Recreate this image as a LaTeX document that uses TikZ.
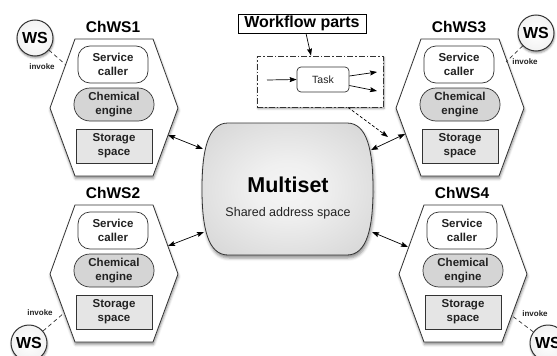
\documentclass[tikz,border=0pt]{standalone}
\usepackage{fontspec}
\setmainfont{Liberation Sans}
\usetikzlibrary{arrows.meta,shadows.blur}
\definecolor{lineC}{HTML}{333333}
\definecolor{txtC}{HTML}{222222}
\definecolor{chemC}{HTML}{D5D5D5}
\definecolor{storC}{HTML}{E5E5E5}
\pgfdeclareradialshading{msshade}{\pgfpoint{0bp}{0bp}}{color(0bp)=(white!96!black); color(10bp)=(white!94!black); color(50bp)=(white!77!black); color(72bp)=(white!62!black)}
\pgfdeclareradialshading{wsshade}{\pgfpoint{0bp}{0bp}}{color(0bp)=(white); color(30bp)=(white!94!black); color(50bp)=(white!72!black)}
\tikzset{
  hexa/.style={draw=lineC, line width=0.8pt, fill=white, blur shadow={shadow xshift=0.5pt, shadow yshift=-2.5pt, shadow blur radius=2.5pt, shadow opacity=45}},
  titlefont/.style={font=\bfseries\fontsize{15.5}{17}\selectfont, text=black},
  inner/.style={draw=lineC, line width=0.7pt, align=center, text=txtC, inner sep=0pt, font=\bfseries\fontsize{11.5}{14}\selectfont},
  svc/.style={inner, fill=white, rounded corners=12pt, minimum width=70pt, minimum height=37pt},
  chem/.style={inner, fill=chemC, rounded corners=16pt, minimum width=80pt, minimum height=33pt},
  stor/.style={inner, fill=storC, minimum width=76pt, minimum height=34pt},
  wsnode/.style={circle, draw=lineC, line width=1pt, shade, shading=wsshade, minimum size=36pt, inner sep=0pt, font=\bfseries\fontsize{16}{18}\selectfont, blur shadow={shadow xshift=0.5pt, shadow yshift=-2pt, shadow blur radius=2pt, shadow opacity=40}},
  invk/.style={font=\bfseries\fontsize{8}{9}\selectfont, text=txtC, inner sep=0pt},
  wsl/.style={draw=lineC, line width=0.7pt, dash pattern=on 4pt off 3pt},
  arr/.style={-{Stealth[length=7pt,width=5pt,inset=1pt]}, line width=0.7pt, draw=black},
  darr/.style={{Stealth[length=7pt,width=5pt,inset=1pt]}-{Stealth[length=7pt,width=5pt,inset=1pt]}, line width=0.7pt, draw=black},
}
\begin{document}
\begin{tikzpicture}[x=1pt,y=-1pt]
\useasboundingbox (0,0) rectangle (557,356);
\clip (0,0) rectangle (557,356);

% Multiset
\path[draw=lineC, line width=0.8pt, shade, shading=msshade, blur shadow={shadow xshift=1pt, shadow yshift=-3pt, shadow blur radius=3pt, shadow opacity=45}]
  (228,123) -- (347,123) .. controls (367,123) and (373,150) .. (373,189)
  .. controls (373,228) and (367,255) .. (347,255) -- (228,255)
  .. controls (208,255) and (202,228) .. (202,189)
  .. controls (202,150) and (208,123) .. (228,123) -- cycle;
\node[font=\bfseries\fontsize{21.5}{24}\selectfont] (ms) at (288,185) {Multiset};
\node[font=\fontsize{12.5}{14}\selectfont, text=txtC] (mss) at (288,213) {Shared address space};

% ChWS components
\foreach \cx/\ty/\n in {114/39/1, 460/39/3, 114/205/2, 463/205/4} {
  \draw[hexa] (\cx-64,\ty+69) -- (\cx-39,\ty) -- (\cx+39,\ty) -- (\cx+64,\ty+69) -- (\cx+39,\ty+137) -- (\cx-39,\ty+137) -- cycle;
  \node[titlefont] (t\n) at (\cx-1,\ty-12.5) {ChWS\n};
  \node[svc] (s\n) at (\cx-1,\ty+25.5) {Service\\caller};
  \node[chem] (c\n) at (\cx,\ty+65.5) {Chemical\\engine};
  \node[stor] (g\n) at (\cx,\ty+107) {Storage\\space};
}

% WS circles
\node[wsnode] (ws1) at (35,38) {WS};
\node[wsnode] (ws3) at (536,33) {WS};
\node[wsnode] (ws2) at (29,343) {WS};
\node[wsnode] (ws4) at (548,343) {WS};
\coordinate (h1w) at (66,65);
\coordinate (h3w) at (506,62);
\coordinate (h2w) at (64,313);
\coordinate (h4w) at (511,315);
\draw[wsl] (ws1) -- (h1w);
\draw[wsl] (ws3) -- (h3w);
\draw[wsl] (ws2) -- (h2w);
\draw[wsl] (ws4) -- (h4w);
\node[invk] (i1) at (42,67) {invoke};
\node[invk] (i3) at (525,62) {invoke};
\node[invk] (i2) at (40,313) {invoke};
\node[invk] (i4) at (535,314) {invoke};

% Workflow parts
\node[draw=black, line width=0.8pt, minimum width=128pt, minimum height=19pt, inner sep=0pt, font=\bfseries\fontsize{16}{18}\selectfont] (wp) at (302,23.5) {Workflow parts};
\node[draw=lineC, line width=0.8pt, fill=white, dash pattern=on 6pt off 2pt on 1.5pt off 2pt, minimum width=126pt, minimum height=51pt, inner sep=0pt, blur shadow={shadow xshift=1pt, shadow yshift=-1.5pt, shadow blur radius=2pt, shadow opacity=45}] (wf) at (320,81.5) {};
\node[draw=lineC, line width=0.7pt, fill=white, rounded corners=4pt, minimum width=52pt, minimum height=25pt, inner sep=0pt, font=\fontsize{10.5}{12}\selectfont, text=txtC] (task) at (323,79.5) {Task};
\coordinate (tin) at (267,80);
\coordinate (to1) at (377,72);
\coordinate (to2) at (377,91);
\draw[arr] (tin) -- (task.west);
\draw[arr] ([yshift=3.5pt]task.east) -- (to1);
\draw[arr] ([yshift=-6pt]task.east) -- (to2);
\draw[arr] ([xshift=4pt]wp.south) -- ([xshift=-9pt]wf.north);
\coordinate (c3d) at (388,137);
\draw[arr, dash pattern=on 3pt off 2pt] ([xshift=28pt]wf.south) -- (c3d);

% Connectors to multiset
\coordinate (h1e) at (168,135); \coordinate (m1) at (203,149);
\coordinate (h2e) at (168,246); \coordinate (m2) at (204,232);
\coordinate (h3e) at (405,134); \coordinate (m3) at (371,150);
\coordinate (h4e) at (408,247); \coordinate (m4) at (372,232);
\draw[darr] (h1e) -- (m1);
\draw[darr] (h2e) -- (m2);
\draw[darr] (h3e) -- (m3);
\draw[darr] (h4e) -- (m4);
\end{tikzpicture}
\end{document}
